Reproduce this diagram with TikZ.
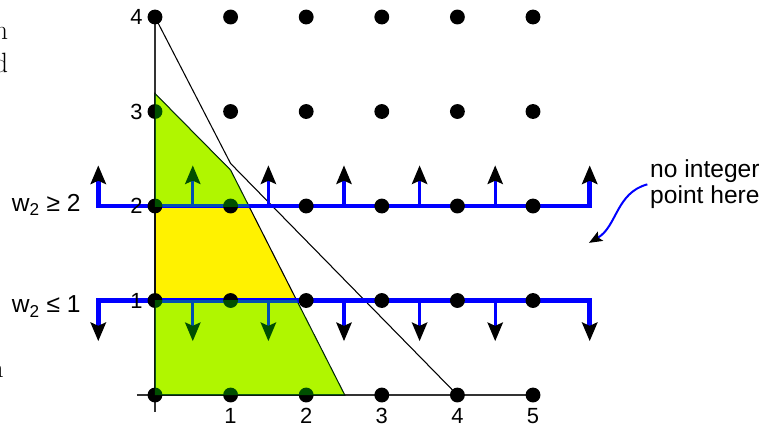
\documentclass[tikz,border=0pt]{standalone}
\usepackage{fontspec}
\newfontfamily\sansfnt{Liberation Sans}
\usetikzlibrary{arrows.meta,positioning}

\begin{document}
\begin{tikzpicture}[x=2cm, y=2.5cm,
		lbl/.style={font=\sansfnt\fontsize{18.5}{19.5}\selectfont},
		tick/.style={font=\sansfnt\fontsize{16.5}{18}\selectfont, inner sep=0pt},
		frag/.style={font=\fontsize{21}{24}\selectfont, inner sep=0pt, anchor=base east},
		head/.style={Stealth[black,length=14pt,width=11.5pt,inset=2.5pt]},
		cut/.style={line width=3.6pt, blue, {Stealth[black,length=14pt,width=11.5pt,inset=2.5pt]}-{Stealth[black,length=14pt,width=11.5pt,inset=2.5pt]}},
		stem/.style={line width=2.4pt, blue, -{Stealth[black,length=14pt,width=11.5pt,inset=2.5pt]}},
	]

		% === figure bounds ===
		\def\xmin{-2.05}	\def\xmax{8.214}
		\def\ymin{-0.349}	\def\ymax{4.18}
		\useasboundingbox (\xmin,\ymin) rectangle (\xmax,\ymax);

		% === relaxation corners ===
		\coordinate (A) at (0,0);
		\coordinate (B) at (0,3.19);
		\coordinate (C) at (1,2.38);
		\coordinate (D) at (2.51,0);
		\fill[yellow] (A) -- (B) -- (C) -- (D) -- cycle;

		% === Axes ===
		\draw[black!80, line width=0.8pt] (-0.24,0) -- (5.05,0);
		\draw[black!80, line width=0.8pt] (0,-0.18) -- (0,4);
		\draw[line width=0.8pt] (0,4) -- (1,2.45) -- (4,0);
		\draw[line width=0.8pt] (A) -- (B) -- (C) -- (D) -- cycle;

		% === branching cuts ===
		\draw[cut] (-0.75,2.43) -- (-0.75,2) -- (5.75,2) -- (5.75,2.43);
		\draw[cut] (-0.75,0.57) -- (-0.75,1) -- (5.75,1) -- (5.75,0.57);
		\foreach \x in {0.5,1.5,...,4.5} {
			\draw[stem] (\x,2) -- (\x,2.43);	% w2 >= 2 side
			\draw[stem] (\x,1) -- (\x,0.57);	% w2 <= 1 side
		}

		% === integer points ===
		\foreach \x in {0,...,5}
			\foreach \y in {0,...,4}
				\fill (\x,\y) circle[radius=5.6pt];

		% === cut off parts of the relaxation ===
		\begin{scope}
			\clip (-1,2) rectangle (6,4.2);
			\fill[green, opacity=0.31] (A) -- (B) -- (C) -- (D) -- cycle;
		\end{scope}
		\begin{scope}
			\clip (-1,-0.3) rectangle (6,1);
			\fill[green, opacity=0.31] (A) -- (B) -- (C) -- (D) -- cycle;
		\end{scope}

		% === Tick labels ===
		\foreach \x in {1,...,5}
			\node[tick, anchor=north] (t\x) at (\x,-0.14) {\x};
		\foreach \y in {1,...,4}
			\node[tick, anchor=east] (y\y) at (-0.16,\y) {\y};

		% === labels ===
		\node[lbl, anchor=base east, inner sep=0pt] (upper) at (-0.98,1.947) {w\textsubscript{2} ≥ 2};
		\node[lbl, anchor=base east, inner sep=0pt] (lower) at (-0.98,0.868) {w\textsubscript{2} ≤ 1};
		\node[lbl, anchor=west, align=left, inner sep=2pt] (note) at (6.512,2.229) {no integer\\point here};
		\coordinate (gap) at (5.74,1.61);
		\draw[blue, line width=1.5pt, -{Stealth[black,length=10pt,width=8pt,inset=2pt]}] (note.west) to[out=195, in=30] (gap);

		% === page text at the margin ===
		\node[frag] (frag1) at (-1.94,3.757) {n};
		\node[frag] (frag2) at (-1.94,3.418) {d};
		\node[frag] (frag3) at (-1.997,0.19) {n};
	\end{tikzpicture}
\end{document}
